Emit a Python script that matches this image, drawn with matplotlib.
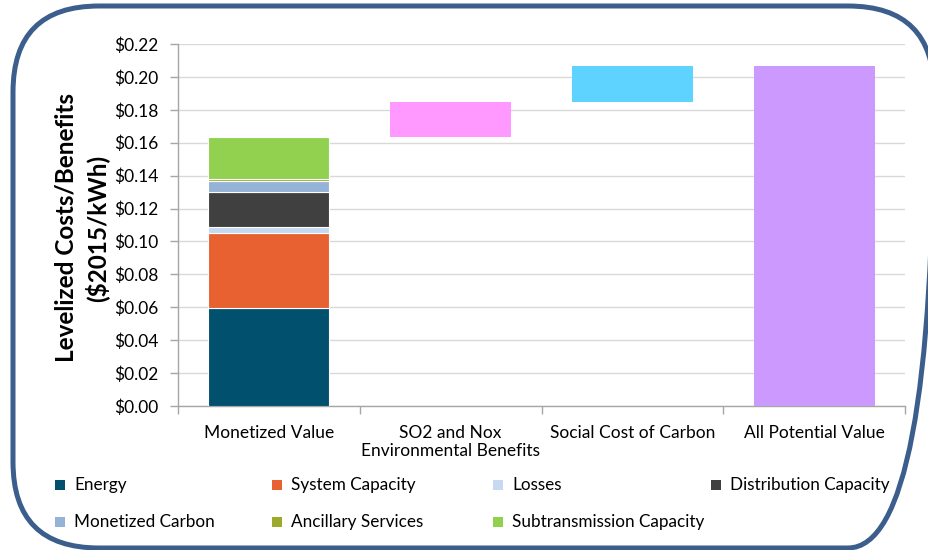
import matplotlib
matplotlib.use("Agg")
import matplotlib.pyplot as plt
from matplotlib.patches import FancyBboxPatch, Rectangle
from matplotlib.ticker import FuncFormatter, FixedLocator
import numpy as np

plt.rcParams['font.family'] = ['Lato', 'DejaVu Sans']

categories = ["Monetized Value", "SO2 and Nox\nEnvironmental Benefits", "Social Cost of Carbon", "All Potential Value"]

# stacked components of "Monetized Value"
stack_names = ["Energy", "System Capacity", "Losses", "Distribution Capacity",
               "Monetized Carbon", "Ancillary Services", "Subtransmission Capacity"]
stack_values = [0.0594, 0.0456, 0.0036, 0.0216, 0.0067, 0.0012, 0.0256]
stack_colors = ["#00506E", "#E86131", "#C6D9F1", "#404040", "#95B3D7", "#9BAA2A", "#92D050"]

# floating (waterfall) bars
so2_value = 0.0208
scc_value = 0.0220
total_value = 0.2068
float_colors = ["#FF99FF", "#5FD3FF", "#CC99FF"]

W, H = 929, 550
fig = plt.figure(figsize=(W / 100, H / 100), dpi=100)

# background pixel-space axes for the rounded border
bg = fig.add_axes([0, 0, 1, 1], zorder=-1)
bg.set_xlim(0, W)
bg.set_ylim(H, 0)
bg.axis("off")
bg.patch.set_visible(False)
bg.add_patch(FancyBboxPatch((13, 6), 921, 542, boxstyle="round,pad=0,rounding_size=86",
                            facecolor="none", edgecolor="#3B5E8C", linewidth=3.6, clip_on=False))

ax = fig.add_axes([178 / W, 1 - 406 / H, (905 - 178) / W, (406 - 44) / H])

x = np.arange(len(categories))
bw = 0.667
bottom = 0.0
for v, c in zip(stack_values, stack_colors):
    ax.bar(x[0], v, bw, bottom=bottom, color=c, edgecolor="white", linewidth=0.8, zorder=3)
    bottom += v
monetized_total = bottom
ax.bar(x[1], so2_value, bw, bottom=monetized_total, color=float_colors[0], zorder=3)
ax.bar(x[2], scc_value, bw, bottom=monetized_total + so2_value, color=float_colors[1], zorder=3)
ax.bar(x[3], total_value, bw, bottom=0, color=float_colors[2], zorder=3)

ax.set_xlim(-0.5, len(categories) - 0.5)
ax.set_ylim(0, 0.22)
ax.set_yticks(np.arange(0, 0.2201, 0.02))
ax.yaxis.set_major_formatter(FuncFormatter(lambda v, p: f"${v:.2f}"))
ax.grid(axis="y", color="#D9D9D9", linewidth=1.0, zorder=0)
ax.set_axisbelow(True)
ax.patch.set_visible(False)

ax.set_xticks(x)
ax.set_xticklabels(categories, fontsize=12.5, linespacing=1.1)
ax.xaxis.set_minor_locator(FixedLocator(np.arange(-0.5, len(categories), 1.0)))
ax.tick_params(axis="x", which="major", length=0, pad=14)
ax.tick_params(axis="x", which="minor", length=6, color="#A6A6A6", width=1)
ax.tick_params(axis="y", length=6, color="#A6A6A6", width=1, labelsize=12.5, pad=8)

for s in ["top", "right"]:
    ax.spines[s].set_visible(False)
for s in ["left", "bottom"]:
    ax.spines[s].set_color("#A6A6A6")
    ax.spines[s].set_linewidth(1.0)

fig.text(82 / W, 1 - 228 / H, "Levelized Costs/Benefits\n($2015/kWh)", rotation=90,
         ha="center", va="center", fontsize=17.5, fontweight="bold", linespacing=1.3)

# legend (manual layout)
leg_pos = [(60, 485), (277, 485), (498, 485), (716, 485),
           (60, 522), (277, 522), (498, 522)]
for (px, py), name, c in zip(leg_pos, stack_names, stack_colors):
    fig.add_artist(Rectangle(((px - 5) / W, 1 - (py + 5) / H), 10 / W, 10 / H,
                             transform=fig.transFigure, facecolor=c, edgecolor="none"))
    fig.text((px + 14) / W, 1 - py / H, name, ha="left", va="center", fontsize=12.3)

fig.savefig("out.png", dpi=100)
